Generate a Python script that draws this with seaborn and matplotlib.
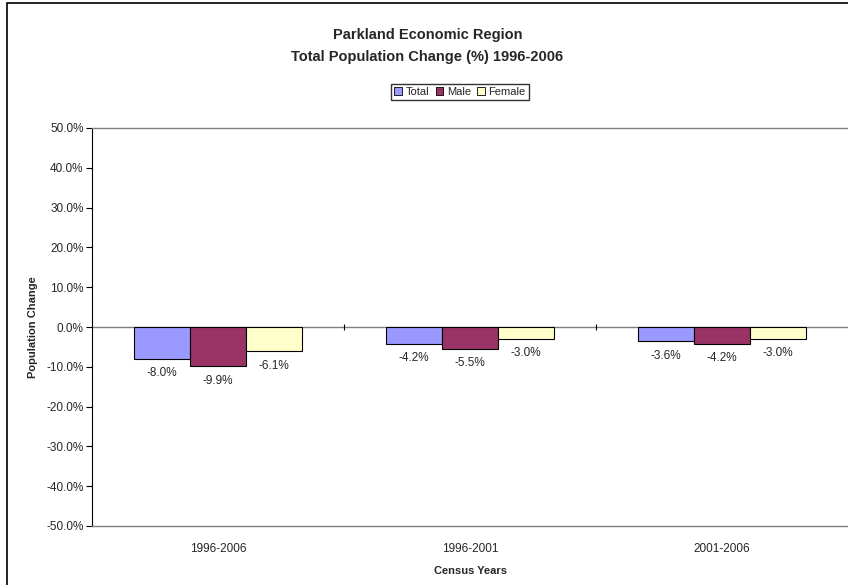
import matplotlib
matplotlib.use("Agg")
import matplotlib.pyplot as plt
from matplotlib.patches import Rectangle
import pandas as pd
import seaborn as sns

# values
years = ['1996-2006', '1996-2001', '2001-2006']
series = ['Total', 'Male', 'Female']
total = [-8.0, -4.2, -3.6]
male = [-9.9, -5.5, -4.2]
female = [-6.1, -3.0, -3.0]
yticks = [-50, -40, -30, -20, -10, 0, 10, 20, 30, 40, 50]
colors = ['#9999FF', '#993366', '#FFFFCC']

df = pd.DataFrame({
    'Census Years': years * 3,
    'Series': ['Total'] * 3 + ['Male'] * 3 + ['Female'] * 3,
    'Change': total + male + female,
})

sns.set_style('white')
plt.rcParams['font.family'] = ['Liberation Sans', 'DejaVu Sans']

fig = plt.figure(figsize=(8.48, 5.85), dpi=100)
ax = fig.add_axes([92 / 848, 59 / 585, 1 - 92 / 848, (526 - 128) / 585])

sns.barplot(data=df, x='Census Years', y='Change', hue='Series',
            hue_order=series, palette=colors, width=0.67, gap=0,
            edgecolor='black', linewidth=0.8, saturation=1,
            legend=False, ax=ax)

for cont in ax.containers:
    ax.bar_label(cont, labels=[f'{v:.1f}%' for v in cont.datavalues],
                 padding=6, fontsize=8.5)

ax.set_ylim(-50, 50)
ax.set_xlim(-0.5, 2.5)
ax.set_yticks(yticks)
ax.set_yticklabels([f'{v:.1f}%' for v in yticks], fontsize=8.5)
ax.tick_params(axis='y', left=True, length=4, width=0.8, color='black', pad=2)
ax.tick_params(axis='x', bottom=False, labelsize=8.5, pad=9)

ax.axhline(0, color='#808080', lw=1, zorder=0.5)
ax.vlines([0.5, 1.5], -0.8, 0.8, color='black', lw=0.8)

for side in ['top', 'bottom']:
    ax.spines[side].set_color('#808080')
    ax.spines[side].set_linewidth(1)
ax.spines['left'].set_color('black')
ax.spines['left'].set_linewidth(0.8)
ax.spines['right'].set_visible(False)

ax.set_ylabel('Population Change', fontsize=8, fontweight='bold', labelpad=6)
ax.set_xlabel('Census Years', fontsize=8, fontweight='bold', labelpad=8)

fig.text(0.5 * (1 + 7 / 848), 1 - 46 / 585,
         'Parkland Economic Region\nTotal Population Change (%) 1996-2006',
         ha='center', va='center', fontsize=10.5, fontweight='bold',
         linespacing=1.75)

handles = [Rectangle((0, 0), 1, 1, facecolor=c, edgecolor='black', lw=0.6)
           for c in colors]
fig.legend(handles, series, loc='center', bbox_to_anchor=(460 / 848, 1 - 92 / 585),
           ncol=3, fontsize=8, frameon=True, fancybox=False, edgecolor='black',
           handlelength=0.7, handleheight=0.7, handletextpad=0.3,
           columnspacing=0.6, borderpad=0.3, borderaxespad=0)

fig.patches.append(Rectangle((7 / 848, -0.1), 1.2, 1 - 3 / 585 + 0.1,
                             transform=fig.transFigure, fill=False,
                             edgecolor='black', lw=1.2))

fig.savefig('out.png', dpi=100)
